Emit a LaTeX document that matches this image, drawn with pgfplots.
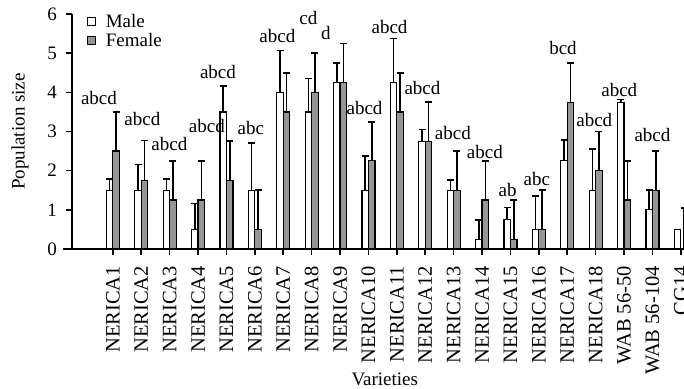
\documentclass[border=0pt]{standalone}
\usepackage{pgfplots}
\pgfplotsset{compat=1.18}
\usepackage{pgfplotstable}
\usepackage{fontspec}
\setmainfont{Liberation Serif}
\definecolor{fem}{RGB}{150,150,150}

\pgfplotstableread{
x   m     me    f     fe
0   1.50  0.29  2.50  1.00
1   1.50  0.66  1.75  1.02
2   1.50  0.29  1.25  1.00
3   0.50  0.66  1.25  1.00
4   3.50  0.66  1.75  1.00
5   1.50  1.20  0.50  1.00
6   4.00  1.07  3.50  1.00
7   3.50  0.85  4.00  1.00
8   4.25  0.50  4.25  1.00
9   1.50  0.87  2.25  1.00
10  4.25  1.12  3.50  1.00
11  2.75  0.30  2.75  1.00
12  1.50  0.26  1.50  1.00
13  0.25  0.49  1.25  1.00
14  0.75  0.31  0.25  1.00
15  0.50  0.85  0.50  1.00
16  2.25  0.53  3.75  1.00
17  1.50  1.05  2.00  1.00
18  3.75  0.07  1.25  1.00
19  1.00  0.50  1.50  1.00
20  0.50  0.00  0.00  1.05
}\datatable

\pgfplotstableread{
x      y     label
-0.49  3.86  abcd
1.04   3.32  abcd
1.99   2.68  abcd
3.31   3.14  abcd
3.70   4.52  abcd
4.86   3.09  abc
5.79   5.44  abcd
6.88   5.89  cd
7.50   5.52  d
8.86   3.61  abcd
9.74   5.68  abcd
10.90  4.10  abcd
11.97  2.95  abcd
13.10  2.48  abcd
13.90  1.51  ab
14.93  1.79  abc
15.85  5.14  bcd
16.95  3.29  abcd
17.83  4.06  abcd
19.00  2.91  abcd
20.53  1.38  abcd
}\labeltable

\begin{document}
\begin{tikzpicture}
\useasboundingbox (0,0) rectangle (684bp,389bp);
\clip (0,0) rectangle (684bp,389bp);
\begin{axis}[
  at={(72bp,140bp)}, anchor=south west,
  scale only axis, width=612bp, height=235bp,
  xmin=-1.44, xmax=20.11, ymin=0, ymax=6,
  enlargelimits=false,
  axis x line*=bottom, axis y line*=left,
  axis line style={line width=1.6bp, black},
  x axis line style={shorten <=-9bp},
  tick align=outside,
  major tick length=6bp,
  tick style={line width=1.6bp, black},
  ytick={0,1,2,3,4,5,6},
  xtick={0,...,20},
  xticklabels={NERICA1,NERICA2,NERICA3,NERICA4,NERICA5,NERICA6,NERICA7,NERICA8,NERICA9,NERICA10,NERICA11,NERICA12,NERICA13,NERICA14,NERICA15,NERICA16,NERICA17,NERICA18,WAB 56-50,WAB 56-104,CG14},
  /pgf/number format/assume math mode=true,
  yticklabel style={font=\fontsize{19bp}{21bp}\selectfont, inner sep=1bp, xshift=-8bp},
  xticklabel style={font=\fontsize{20.5bp}{22bp}\selectfont, rotate=90, anchor=east, inner sep=1bp},
  xticklabel shift=10bp,
  label style={font=\fontsize{19bp}{21bp}\selectfont},
  xlabel={Varieties},
  ylabel={Population size},
  xlabel style={at={(axis description cs:0.511,-0.553)}, anchor=center},
  ylabel style={at={(axis description cs:-0.085,0.5)}, anchor=center},
  legend style={at={(rel axis cs:0.022,1.012)}, anchor=north west, draw=none, fill=none,
    font=\fontsize{19bp}{21bp}\selectfont, row sep=0bp, inner sep=1bp},
  legend cell align=left,
  legend image code/.code={\draw[#1, line width=1.1bp] (0bp,-4bp) rectangle (8bp,4bp); \path (16bp,0bp);},
]
\addplot[ybar, bar width=6.5bp, bar shift=-3.25bp, draw=black, line width=1.2bp, fill=white]
  table[x=x, y=m] {\datatable};
\addlegendentry{Male}
\addplot[ybar, bar width=6.5bp, bar shift=3.25bp, draw=black, line width=1.2bp, fill=fem]
  table[x=x, y=f] {\datatable};
\addlegendentry{Female}
\addplot[draw=none, mark=none, forget plot,
  error bars/.cd, y dir=plus, y explicit,
  error bar style={line width=1.6bp, draw=black, solid},
  error mark options={line width=1.6bp, draw=black, mark size=3.5bp, rotate=90}]
  table[x expr=\thisrow{x}-0.1144, y=m, y error=me] {\datatable};
\addplot[draw=none, mark=none, forget plot,
  error bars/.cd, y dir=plus, y explicit,
  error bar style={line width=1.6bp, draw=black, solid},
  error mark options={line width=1.6bp, draw=black, mark size=3.5bp, rotate=90}]
  table[x expr=\thisrow{x}+0.1144, y=f, y error=fe] {\datatable};
\addplot[draw=none, mark=none, forget plot, nodes near coords, point meta=explicit symbolic,
  nodes near coords style={anchor=center, inner sep=0pt, font=\fontsize{19bp}{21bp}\selectfont}]
  table[x=x, y=y, meta=label] {\labeltable};
\end{axis}
\end{tikzpicture}
\end{document}
